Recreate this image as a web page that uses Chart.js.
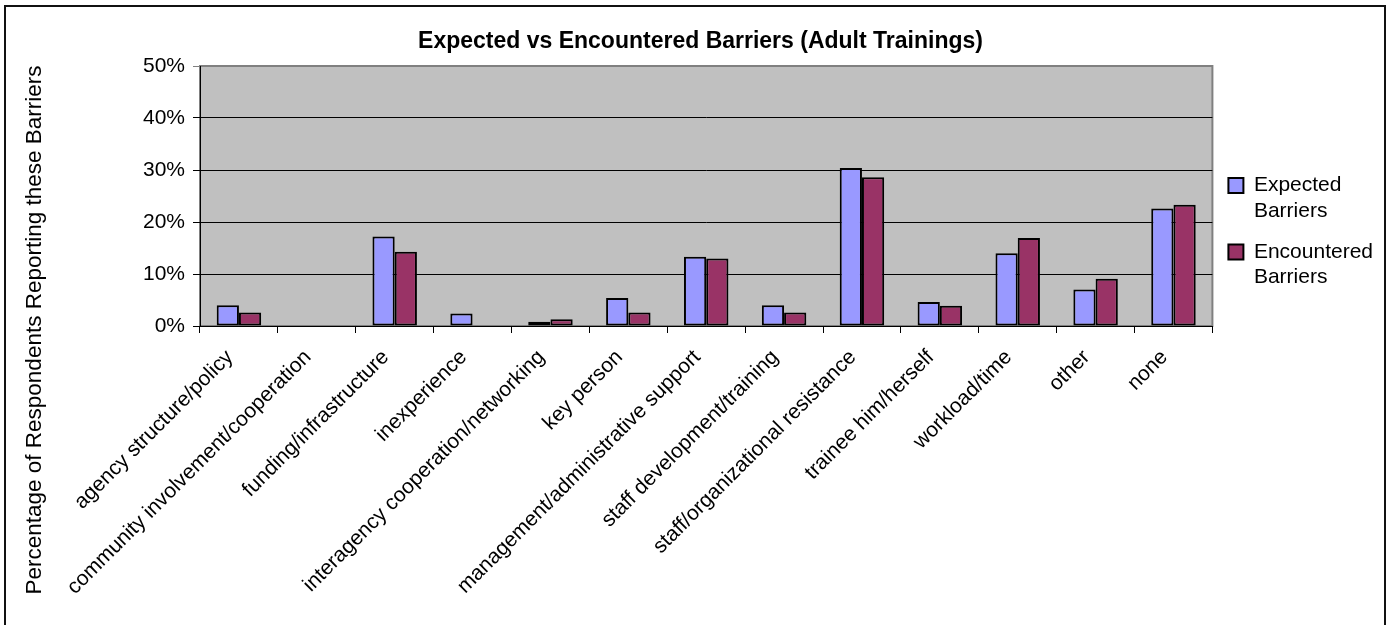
<!DOCTYPE html>
<html>
<head>
<meta charset="utf-8">
<title>Expected vs Encountered Barriers</title>
<script src="https://cdn.jsdelivr.net/npm/chart.js@4.4.1/dist/chart.umd.min.js"></script>
<style>
  body { margin: 0; background: #fff; }
  canvas { display: block; }
</style>
</head>
<body>
<canvas id="barriersChart" width="1388" height="625"></canvas>
<script>
// percentages of respondents per barrier
const categories = [
  'agency structure/policy',
  'community involvement/cooperation',
  'funding/infrastructure',
  'inexperience',
  'interagency cooperation/networking',
  'key person',
  'management/administrative support',
  'staff development/training',
  'staff/organizational resistance',
  'trainee him/herself',
  'workload/time',
  'other',
  'none'
]
const expected = [4.0, 0, 17.2, 2.4, 0.8, 5.4, 13.3, 4.0, 30.4, 4.6, 14.0, 7.0, 22.6]
const encountered = [2.6, 0, 14.3, 0, 1.3, 2.6, 13.0, 2.6, 28.6, 3.9, 16.9, 9.1, 23.3]
const yTicks = [0, 10, 20, 30, 40, 50]

const yTitle = 'Percentage of Respondents Reporting these Barriers'

Chart.defaults.font.family = '"Liberation Sans", Arial, sans-serif'
Chart.defaults.color = '#000'

// grey plot area, frame round the whole chart, rotated y title
const chartDecor = {
  id: 'chartDecor',
  afterUpdate(chart) {
    // move the legend up beside the bars
    chart.legend.top -= 79
    chart.legend.bottom -= 79
  },
  beforeDraw(chart) {
    const { ctx, chartArea: a } = chart
    ctx.save()
    ctx.fillStyle = '#fff'
    ctx.fillRect(0, 0, chart.width, chart.height)
    ctx.strokeStyle = '#111'
    ctx.lineWidth = 2
    ctx.strokeRect(5, 6, 1380, 700)
    ctx.fillStyle = '#c0c0c0'
    ctx.fillRect(a.left, a.top, a.right - a.left, a.bottom - a.top)
    ctx.strokeStyle = '#808080'
    ctx.lineWidth = 2
    ctx.strokeRect(a.left, a.top, a.right - a.left, a.bottom - a.top)
    ctx.restore()
  },
  afterDraw(chart) {
    const ctx = chart.ctx
    ctx.save()
    ctx.translate(35, 330)
    ctx.rotate(-Math.PI / 2)
    ctx.font = '22.5px "Liberation Sans", Arial, sans-serif'
    ctx.fillStyle = '#000'
    ctx.textAlign = 'center'
    ctx.textBaseline = 'middle'
    ctx.fillText(yTitle, 0, 0)
    ctx.restore()
  }
}

const ctx = document.getElementById('barriersChart').getContext('2d')
const myChart = new Chart(ctx, {
  type: 'bar',
  data: {
    labels: categories,
    datasets: [{
      label: 'Expected Barriers',
      data: expected,
      backgroundColor: '#9999ff',
      borderColor: '#000',
      borderWidth: 2,
      borderSkipped: false,
      categoryPercentage: 0.571,
      barPercentage: 1
    }, {
      label: 'Encountered Barriers',
      data: encountered,
      backgroundColor: '#993366',
      borderColor: '#000',
      borderWidth: 2,
      borderSkipped: false,
      categoryPercentage: 0.571,
      barPercentage: 1
    }]
  },
  options: {
    responsive: false,
    animation: false,
    layout: { padding: { left: 18, right: 5, top: 0, bottom: 0 } },
    scales: {
      x: {
        afterFit(scale) { scale.height = 299 },
        grid: {
          offset: true,
          drawOnChartArea: false,
          color: '#000',
          tickLength: 7
        },
        border: { color: '#000', width: 1 },
        ticks: {
          autoSkip: false,
          minRotation: 45,
          maxRotation: 45,
          padding: 12,
          labelOffset: -9,
          color: '#000',
          font: { size: 21 }
        }
      },
      y: {
        min: 0,
        max: 50,
        afterFit(scale) { scale.width = 182 },
        afterBuildTicks(scale) { scale.ticks = yTicks.map(v => ({ value: v })) },
        grid: {
          color: c => c.tick && c.tick.value === 50 ? '#808080' : '#000',
          tickLength: 7
        },
        border: { color: '#000', width: 1 },
        ticks: {
          padding: 8,
          color: '#000',
          font: { size: 21 },
          callback: v => v + '%'
        }
      }
    },
    plugins: {
      title: {
        display: true,
        text: 'Expected vs Encountered Barriers (Adult Trainings)',
        color: '#000',
        font: { size: 23, weight: 'bold' },
        padding: { top: 28, bottom: 10.4 }
      },
      legend: {
        position: 'right',
        labels: {
          color: '#000',
          font: { size: 21 },
          boxWidth: 15,
          boxHeight: 15,
          padding: 16,
          generateLabels(chart) {
            return chart.data.datasets.map((ds, i) => ({
              text: ds.label.split(' '),
              fillStyle: ds.backgroundColor,
              strokeStyle: '#000',
              lineWidth: 2,
              datasetIndex: i,
              hidden: false
            }))
          }
        }
      },
      tooltip: { enabled: false }
    }
  },
  plugins: [chartDecor]
})
</script>
</body>
</html>
